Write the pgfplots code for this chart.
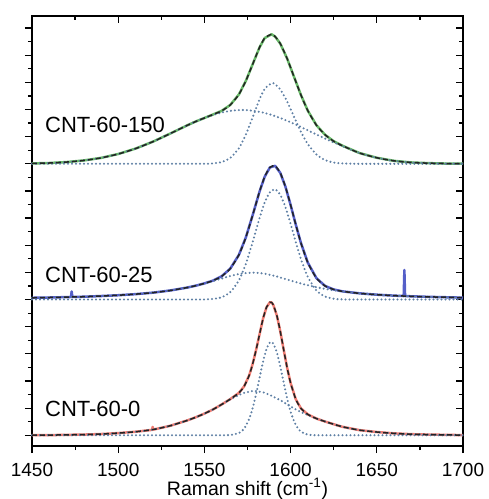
\documentclass[border=0pt]{standalone}
\usepackage{pgfplots}
\pgfplotsset{compat=1.18}
\usepackage{pgfplotstable}
\usepackage{fontspec}
\setmainfont{Liberation Sans}
\definecolor{cgreen}{RGB}{105,185,105}
\definecolor{cblue}{RGB}{85,95,200}
\definecolor{cred}{RGB}{240,125,115}
\definecolor{cdot}{RGB}{95,128,165}
\definecolor{cfit}{RGB}{35,35,35}

% x  total  narrow  broad
\pgfplotstableread{
x T N W
1450 21.03 21.00 21.03
1460 21.06 21.00 21.06
1470 21.13 21.00 21.13
1480 21.25 21.00 21.25
1490 21.44 21.00 21.44
1500 21.73 21.00 21.73
1510 22.13 21.00 22.13
1520 22.64 21.00 22.64
1530 23.24 21.00 23.24
1540 23.86 21.00 23.86
1545 24.15 21.00 24.15
1550 24.41 21.00 24.41
1555 24.67 21.03 24.64
1560 24.94 21.13 24.81
1565 25.38 21.44 24.94
1570 26.16 22.16 25.00
1574 27.16 23.16 25.00
1578 28.41 24.46 24.95
1582 29.67 25.80 24.87
1585 30.36 26.58 24.78
1589 30.64 27.00 24.64
1591 30.47 26.92 24.55
1594 29.95 26.54 24.41
1598 28.83 25.63 24.20
1602 27.47 24.49 23.98
1606 26.12 23.38 23.74
1610 24.95 22.46 23.49
1615 23.87 21.69 23.18
1620 23.16 21.28 22.88
1625 22.68 21.09 22.59
1630 22.35 21.03 22.32
1640 21.80 21.00 21.80
1650 21.45 21.00 21.45
1660 21.22 21.00 21.22
1670 21.10 21.00 21.10
1680 21.05 21.00 21.05
1690 21.02 21.00 21.02
1700 21.01 21.00 21.01
}\topT

\pgfplotstableread{
x T N W
1450 11.03 10.90 11.03
1460 11.05 10.90 11.05
1470 11.08 10.90 11.08
1480 11.11 10.90 11.11
1490 11.16 10.90 11.16
1500 11.22 10.90 11.22
1510 11.30 10.90 11.30
1520 11.41 10.90 11.41
1530 11.57 10.90 11.57
1540 11.79 10.90 11.79
1545 11.93 10.90 11.93
1550 12.10 10.91 12.09
1555 12.31 10.94 12.27
1560 12.63 11.07 12.46
1565 13.20 11.45 12.65
1570 14.22 12.32 12.80
1574 15.51 13.54 12.87
1578 17.18 15.18 12.90
1582 18.94 16.97 12.87
1585 20.05 18.13 12.82
1588 20.73 18.89 12.74
1591 20.85 19.10 12.65
1594 20.33 18.69 12.54
1597 19.30 17.78 12.42
1600 17.94 16.53 12.31
1603 16.48 15.18 12.20
1606 15.11 13.92 12.09
1610 13.64 12.58 11.96
1615 12.49 11.57 11.82
1620 11.91 11.12 11.69
1625 11.65 10.96 11.59
1630 11.51 10.91 11.50
1640 11.36 10.90 11.36
1650 11.26 10.90 11.26
1660 11.19 10.90 11.19
1670 11.14 10.90 11.14
1680 11.10 10.90 11.10
1690 11.07 10.90 11.07
1700 11.04 10.90 11.04
}\midT

\pgfplotstableread{
x T N W
1450 0.80 0.80 0.80
1460 0.81 0.80 0.81
1470 0.83 0.80 0.83
1480 0.85 0.80 0.85
1490 0.89 0.80 0.89
1500 0.96 0.80 0.96
1510 1.06 0.80 1.06
1520 1.22 0.80 1.22
1530 1.50 0.80 1.50
1540 1.90 0.80 1.90
1545 2.14 0.80 2.14
1550 2.41 0.80 2.41
1555 2.72 0.80 2.72
1560 3.09 0.80 3.09
1565 3.49 0.82 3.47
1570 3.95 0.96 3.79
1573 4.43 1.28 3.95
1576 5.26 2.02 4.04
1578 6.11 2.82 4.09
1580 7.16 3.87 4.09
1582 8.32 5.08 4.04
1584 9.47 6.27 4.00
1586 10.32 7.22 3.90
1588 10.70 7.71 3.79
1589 10.68 7.74 3.74
1590 10.49 7.62 3.67
1592 9.72 6.98 3.54
1594 8.54 5.93 3.41
1596 7.16 4.71 3.25
1598 5.82 3.53 3.09
1600 4.69 2.55 2.94
1603 3.48 1.56 2.72
1606 2.80 1.07 2.53
1610 2.35 0.85 2.30
1615 2.04 0.80 2.04
1620 1.82 0.80 1.82
1625 1.62 0.80 1.62
1630 1.43 0.80 1.43
1640 1.18 0.80 1.18
1650 1.04 0.80 1.04
1660 0.94 0.80 0.94
1670 0.88 0.80 0.88
1680 0.85 0.80 0.85
1690 0.83 0.80 0.83
1700 0.81 0.80 0.81
}\botT

% measured spectra (with spikes)
\pgfplotstableread{
x y
1450 11.03
1460 11.05
1470 11.08
1472.6 11.09
1473 11.50
1473.4 11.09
1480 11.11
1490 11.16
1500 11.22
1510 11.30
1520 11.41
1530 11.57
1540 11.79
1545 11.93
1550 12.10
1555 12.31
1560 12.63
1565 13.20
1570 14.22
1574 15.51
1578 17.18
1582 18.94
1585 20.05
1588 20.73
1591 20.85
1594 20.33
1597 19.30
1600 17.94
1603 16.48
1606 15.11
1610 13.64
1615 12.49
1620 11.91
1625 11.65
1630 11.51
1640 11.36
1650 11.26
1660 11.19
1665.6 11.16
1666 13.10
1666.4 11.16
1670 11.14
1680 11.10
1690 11.07
1700 11.04
}\midD

\pgfplotstableread{
x y
1450 0.80
1460 0.81
1470 0.83
1480 0.85
1490 0.89
1500 0.96
1510 1.06
1519.6 1.20
1520 1.42
1520.4 1.22
1530 1.50
1540 1.90
1545 2.14
1550 2.41
1555 2.72
1560 3.09
1565 3.49
1570 3.95
1573 4.43
1576 5.26
1578 6.11
1580 7.16
1582 8.32
1584 9.47
1586 10.32
1588 10.70
1589 10.68
1590 10.49
1592 9.72
1594 8.54
1596 7.16
1598 5.82
1600 4.69
1603 3.48
1606 2.80
1610 2.35
1615 2.04
1620 1.82
1625 1.62
1630 1.43
1640 1.18
1650 1.04
1660 0.94
1670 0.88
1680 0.85
1690 0.83
1700 0.81
}\botD

\begin{document}
\begin{tikzpicture}
\pgfplotsset{
  base/.style={
    scale only axis, width=431pt, height=430pt,
    xmin=1450, xmax=1700, ymin=0, ymax=32,
    axis line style={line width=1.3pt, black},
    xtick={1450,1500,...,1700},
    minor xtick={1475,1525,...,1675},
    ytick={0.8,2.82,...,31},
    minor ytick={1.81,3.83,...,31},
    major tick length=7pt, minor tick length=4pt,
    every tick/.style={line width=1.2pt, black},
    yticklabels={},
    clip=false,
  },
  data/.style={sharp plot, line join=round, line width=2.5pt},
  fit/.style={smooth, tension=0.4, cfit, line width=1.5pt, dash pattern=on 5pt off 3pt},
  comp/.style={smooth, tension=0.4, cdot, line width=2.3pt, line cap=round, dash pattern=on 0pt off 4pt},
}
% top/right ticks pointing in
\begin{axis}[base, tick align=inside, xtick pos=right, ytick pos=right, xticklabels={}]
\end{axis}
% labels only (no visible ticks)
\begin{axis}[base, tick align=inside, xtick pos=left, ytick pos=left,
  major tick length=0pt, minor tick length=0pt,
  axis line style={draw=none},
  /pgf/number format/assume math mode=true,
  /pgf/number format/1000 sep={},
  xticklabel style={font=\fontsize{19}{22}\selectfont, anchor=base, inner sep=0pt, yshift=-30.5pt},
  xlabel={Raman shift (cm\textsuperscript{-1})},
  xlabel style={font=\fontsize{19.5}{23}\selectfont, at={(axis description cs:0.5,0)}, anchor=base, inner sep=0pt, yshift=-49pt},
]
\end{axis}
% bottom/left ticks pointing out, and the data
\begin{axis}[base, tick align=outside, xtick pos=left, ytick pos=left, xticklabels={}]
% top
\addplot[data, cgreen] table[x=x, y=T] {\topT};
\addplot[comp] table[x=x, y=N] {\topT};
\addplot[comp] table[x=x, y=W] {\topT};
\addplot[fit] table[x=x, y=T] {\topT};
% middle
\addplot[data, cblue] table[x=x, y=y] {\midD};
\addplot[comp] table[x=x, y=N] {\midT};
\addplot[comp] table[x=x, y=W] {\midT};
\addplot[fit] table[x=x, y=T] {\midT};
% bottom
\addplot[data, cred] table[x=x, y=y] {\botD};
\addplot[comp] table[x=x, y=N] {\botT};
\addplot[comp] table[x=x, y=W] {\botT};
\addplot[fit] table[x=x, y=T] {\botT};

\node[anchor=west, inner sep=0pt, font=\fontsize{22}{26}\selectfont] at (axis cs:1457.5,23.9) {CNT-60-150};
\node[anchor=west, inner sep=0pt, font=\fontsize{22}{26}\selectfont] at (axis cs:1457.5,12.7) {CNT-60-25};
\node[anchor=west, inner sep=0pt, font=\fontsize{22}{26}\selectfont] at (axis cs:1457.5,2.78) {CNT-60-0};
\end{axis}
\pgfresetboundingbox
\path ([xshift=-32pt,yshift=-53pt]current axis.south west) rectangle ([xshift=26pt,yshift=16pt]current axis.north east);
\end{tikzpicture}
\end{document}
